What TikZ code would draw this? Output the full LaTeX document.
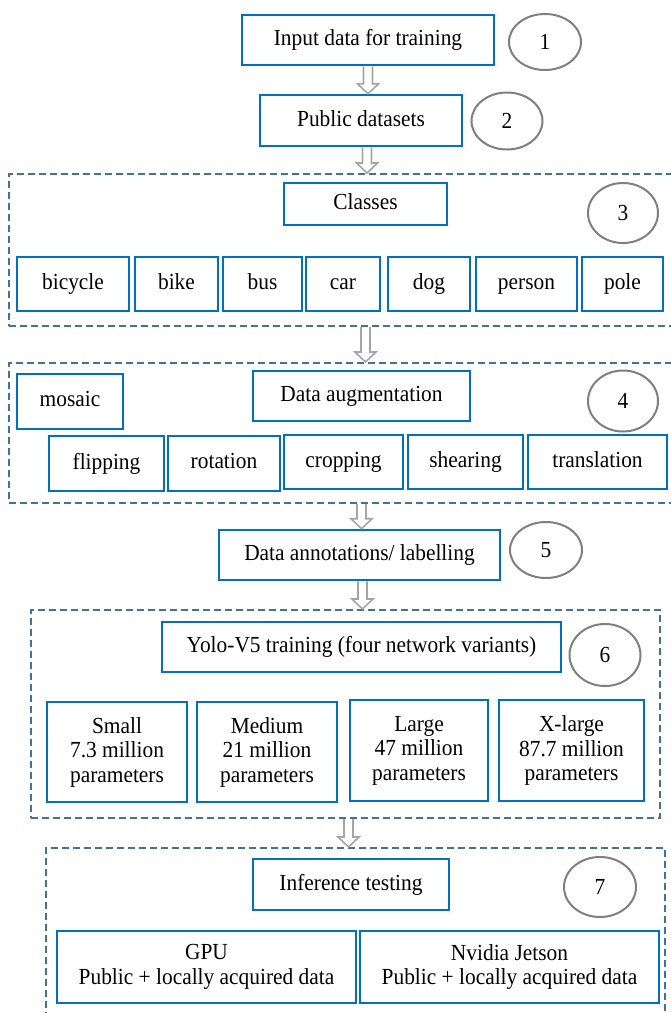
\documentclass[tikz,border=0pt]{standalone}
\usepackage{fontspec}
\setmainfont[FakeStretch=0.93]{Liberation Serif}
\usetikzlibrary{shapes.geometric,calc}
\definecolor{boxblue}{RGB}{0,112,192}
\definecolor{grpblue}{RGB}{65,113,156}
\definecolor{circgray}{RGB}{127,127,127}
\definecolor{arrgray}{RGB}{165,165,165}
\newcommand\mkbox[6]{\node[bx, minimum width={(#4-#2)*1pt}, minimum height={(#5-#3)*1pt}] (#1) at ({(#2+#4)/2},{(#3+#5)/2}) {\vphantom{Ap}#6};}
\newcommand\mkgrp[5]{\node[grp, minimum width={(#4-#2)*1pt}, minimum height={(#5-#3)*1pt}] (#1) at ({(#2+#4)/2},{(#3+#5)/2}) {};}
\newcommand\flowarrow[2]{\path[flowarr] let \p1=(#1), \p2=(#2) in (\x1-4.5pt,\y1) -- (\x1-4.5pt,\y2+10pt) -- (\x1-10.5pt,\y2+10pt) -- (\x1,\y2) -- (\x1+10.5pt,\y2+10pt) -- (\x1+4.5pt,\y2+10pt) -- (\x1+4.5pt,\y1);}
\begin{document}
\begin{tikzpicture}[x=1pt,y=-1pt,
 txt/.style={font=\fontsize{23}{24.5}\selectfont},
 bx/.style={draw=boxblue, line width=2.5pt, fill=white, inner sep=0pt, align=center, txt},
 grp/.style={draw=grpblue, line width=2pt, dash pattern=on 7pt off 4pt, inner sep=0pt},
 num/.style={draw=circgray, line width=2pt, ellipse, inner sep=0pt, txt},
 flowarr/.style={draw=arrgray, line width=1.6pt, fill=white, line join=miter}]
\useasboundingbox (0,0) rectangle (670,1013);
% groups
\mkgrp{g3}{9}{174}{672}{326}
\mkgrp{g4}{9}{363}{672}{503}
\mkgrp{g6}{31}{610}{660}{818}
\mkgrp{g7}{46}{848}{665}{1030}
% step 1 and 2
\mkbox{inp}{242}{15}{494}{65}{Input data for training}
\node[num, minimum width=72pt, minimum height=56pt] (c1) at (545,42) {1};
\mkbox{pub}{260}{95}{462}{146}{Public datasets}
\node[num, minimum width=71pt, minimum height=57pt] (c2) at (507,121) {2};
% step 3
\mkbox{cls}{284}{183}{447}{225}{Classes}
\node[num, minimum width=70pt, minimum height=60pt] (c3) at (623,213) {3};
\mkbox{bicycle}{17}{257}{129}{311}{bicycle}
\mkbox{bike}{135}{257}{218}{311}{bike}
\mkbox{bus}{223}{257}{302}{311}{bus}
\mkbox{car}{306}{257}{380}{311}{car}
\mkbox{dog}{388}{257}{470}{311}{dog}
\mkbox{person}{476}{257}{577}{311}{person}
\mkbox{pole}{582}{257}{663}{311}{pole}
% step 4
\mkbox{mosaic}{17}{374}{123}{429}{mosaic}
\mkbox{aug}{253}{371}{470}{421}{Data augmentation}
\node[num, minimum width=70pt, minimum height=61pt] (c4) at (623,401) {4};
\mkbox{flip}{49}{436}{164}{491}{flipping}
\mkbox{rot}{168}{436}{280}{491}{rotation}
\mkbox{crop}{284}{435}{403}{489}{cropping}
\mkbox{shear}{408}{435}{523}{489}{shearing}
\mkbox{trans}{528}{435}{667}{489}{translation}
% step 5
\mkbox{annot}{219}{530}{500}{580}{Data annotations/ labelling}
\node[num, minimum width=72pt, minimum height=56pt] (c5) at (546,550) {5};
% step 6
\mkbox{yolo}{162}{622}{561}{672}{Yolo-V5 training (four network variants)}
\node[num, minimum width=71pt, minimum height=62pt] (c6) at (605,655) {6};
\mkbox{small}{47}{702}{187}{802}{Small\\7.3 million\\parameters}
\mkbox{medium}{197}{702}{337}{802}{Medium\\21 million\\parameters}
\mkbox{large}{350}{700}{488}{801}{Large\\47 million\\parameters}
\mkbox{xlarge}{499}{700}{644}{801}{X-large\\87.7 million\\parameters}
% step 7
\mkbox{inf}{253}{859}{449}{910}{Inference testing}
\node[num, minimum width=72pt, minimum height=60pt] (c7) at (600,887) {7};
\mkbox{gpu}{57}{931}{356}{1003}{GPU\\Public + locally acquired data}
\mkbox{jetson}{360}{931}{659}{1003}{Nvidia Jetson\\Public + locally acquired data}
% arrows
\flowarrow{inp.south}{pub.north}
\flowarrow{$(pub.south)+(6,0)$}{g3.north}
\flowarrow{cls |- g3.south}{g4.north}
\flowarrow{aug |- g4.south}{annot.north}
\flowarrow{$(annot.south)+(3,0)$}{g6.north}
\flowarrow{$(g6.south)+(3,0)$}{g7.north}
\end{tikzpicture}
\end{document}
